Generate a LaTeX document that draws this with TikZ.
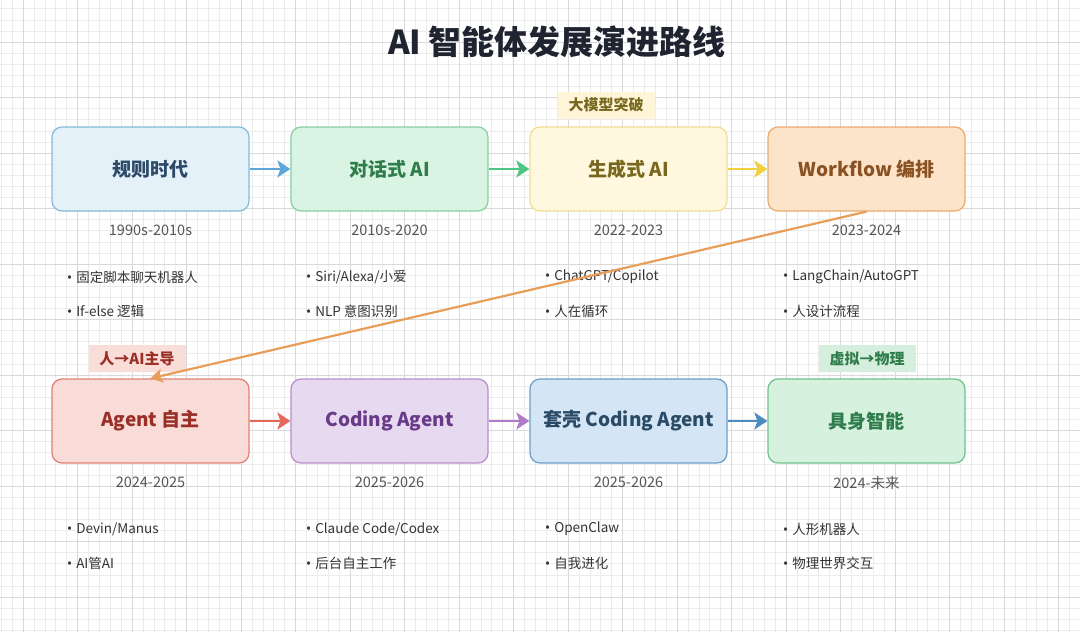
\documentclass[tikz,border=0pt]{standalone}
\usepackage{fontspec}
\setmainfont{Noto Sans CJK SC}
\newfontfamily\dotfont{Noto Sans}
\definecolor{rulefill}{HTML}{E4F1F8}
\definecolor{rulerim}{HTML}{86B9DA}
\definecolor{ruletext}{HTML}{2D4B69}
\definecolor{chatfill}{HTML}{D9F4E2}
\definecolor{chatrim}{HTML}{86CFA0}
\definecolor{chattext}{HTML}{2F7D4B}
\definecolor{genfill}{HTML}{FFF8DE}
\definecolor{genrim}{HTML}{F1DE92}
\definecolor{gentext}{HTML}{77681E}
\definecolor{wffill}{HTML}{FCE4CA}
\definecolor{wfrim}{HTML}{E9AB70}
\definecolor{wftext}{HTML}{8A5122}
\definecolor{agentfill}{HTML}{F9DBD7}
\definecolor{agentrim}{HTML}{E07F74}
\definecolor{agenttext}{HTML}{9A2F27}
\definecolor{codefill}{HTML}{E7D9EF}
\definecolor{coderim}{HTML}{B68DCA}
\definecolor{codetext}{HTML}{683A88}
\definecolor{shellfill}{HTML}{D4E6F5}
\definecolor{shellrim}{HTML}{6C9EC8}
\definecolor{shelltext}{HTML}{2A4A66}
\definecolor{bodyfill}{HTML}{D7F1DF}
\definecolor{bodyrim}{HTML}{70C18D}
\definecolor{bodytext}{HTML}{2F7D4B}
\definecolor{ruleline}{HTML}{5EA6DA}
\definecolor{chatline}{HTML}{4DC585}
\definecolor{genline}{HTML}{F1D03E}
\definecolor{jumpline}{HTML}{E89E58}
\definecolor{agentline}{HTML}{E5685B}
\definecolor{codeline}{HTML}{B07CC9}
\definecolor{shellline}{HTML}{4C8BC1}
\definecolor{gentag}{HTML}{FFF6DA}
\definecolor{agenttag}{HTML}{F9DDD9}
\definecolor{bodytag}{HTML}{D6EEDD}
\definecolor{titleink}{HTML}{1F2430}
\definecolor{dateink}{HTML}{555555}
\definecolor{pointink}{HTML}{333333}
\definecolor{gridlight}{HTML}{ECECEC}
\definecolor{griddark}{HTML}{D9D9D9}
\usetikzlibrary{arrows.meta,positioning}
\newcommand{\pointdot}{{\dotfont •}\hspace{4pt}}
\tikzset{
    stagebox/.style={
        rounded corners=10pt,
        line width=1.2pt,
        minimum width=197pt,
        minimum height=84pt,
        align=center,
        font=\fontsize{19}{22}\selectfont\bfseries
    },
    rulestage/.style={stagebox, draw=rulerim, fill=rulefill, text=ruletext},
    chatstage/.style={stagebox, draw=chatrim, fill=chatfill, text=chattext},
    genstage/.style={stagebox, draw=genrim, fill=genfill, text=gentext},
    wfstage/.style={stagebox, draw=wfrim, fill=wffill, text=wftext},
    agentstage/.style={stagebox, draw=agentrim, fill=agentfill, text=agenttext},
    codestage/.style={stagebox, draw=coderim, fill=codefill, text=codetext},
    shellstage/.style={stagebox, draw=shellrim, fill=shellfill, text=shelltext},
    bodystage/.style={stagebox, draw=bodyrim, fill=bodyfill, text=bodytext},
    stagedate/.style={
        inner sep=0pt,
        text=dateink,
        font=\fontsize{14.5}{16}\selectfont
    },
    stagepoint/.style={
        anchor=west,
        inner sep=0pt,
        text=pointink,
        font=\fontsize{13.5}{15}\selectfont
    },
    stagetag/.style={
        inner sep=0pt,
        minimum width=97pt,
        minimum height=27pt,
        font=\fontsize{15}{17}\selectfont\bfseries
    },
    flowarrow/.style={
        -{Stealth[length=13pt,width=17pt,inset=3pt]},
        line width=2.6pt
    },
    jumparrow/.style={
        -{Stealth[length=12pt,width=14pt,inset=2.5pt]},
        draw=jumpline,
        line width=2.2pt
    },
    minorgrid/.style={draw=gridlight, line width=0.6pt},
    majorgrid/.style={draw=griddark, line width=0.8pt}
}

\begin{document}
\begin{tikzpicture}[x=1pt,y=-1pt]
    \useasboundingbox[fill=white] (0,0) rectangle (1080,632);

    % background grid
    \foreach \i in {-2,...,97}
        \draw[minorgrid] ({23+\i*10.9},0) -- ({23+\i*10.9},632);
    \foreach \j in {-3,...,54}
        \draw[minorgrid] (0,{42+\j*11.1}) -- (1080,{42+\j*11.1});
    \foreach \i in {0,...,19}
        \draw[majorgrid] ({23+\i*54.5},0) -- ({23+\i*54.5},632);
    \foreach \j in {0,...,10}
        \draw[majorgrid] (0,{42+\j*55.5}) -- (1080,{42+\j*55.5});

    \node[text=titleink,font=\fontsize{33}{38}\selectfont\bfseries] (title) at (557,42)
        {AI 智能体发展演进路线};

    % first row
    \node[rulestage] (rule) at (150.5,169) {规则时代};
    \node[chatstage] (chat) at (389.5,169) {对话式 AI};
    \node[genstage] (gen) at (628.5,169) {生成式 AI};
    \node[wfstage] (wf) at (866.5,169) {Workflow 编排};

    % second row
    \node[agentstage] (agent) at (150.5,421) {Agent 自主};
    \node[codestage] (coding) at (389.5,421) {Coding Agent};
    \node[shellstage] (shell) at (628.5,421) {套壳 Coding Agent};
    \node[bodystage] (body) at (866.5,421) {具身智能};

    % milestone tags
    \node[stagetag,fill=gentag,text=gentext] (gentag) at (606,105) {大模型突破};
    \node[stagetag,fill=agenttag,text=agenttext] (agenttag) at (137,358.5) {人→AI主导};
    \node[stagetag,fill=bodytag,text=bodytext] (bodytag) at (867,358.5) {虚拟→物理};

    % periods
    \node[stagedate,below=13pt of rule] (ruledate) {1990s-2010s};
    \node[stagedate,below=13pt of chat] (chatdate) {2010s-2020};
    \node[stagedate,below=13pt of gen] (gendate) {2022-2023};
    \node[stagedate,below=13pt of wf] (wfdate) {2023-2024};
    \node[stagedate,below=13pt of agent] (agentdate) {2024-2025};
    \node[stagedate,below=13pt of coding] (codingdate) {2025-2026};
    \node[stagedate,below=13pt of shell] (shelldate) {2025-2026};
    \node[stagedate,below=13pt of body] (bodydate) {2024-未来};

    % examples
    \node[stagepoint] (rulea) at (67,277) {\pointdot 固定脚本聊天机器人};
    \node[stagepoint] (ruleb) at (67,311) {\pointdot If-else 逻辑};
    \node[stagepoint] (chata) at (306,277) {\pointdot Siri/Alexa/小爱};
    \node[stagepoint] (chatb) at (306,311) {\pointdot NLP 意图识别};
    \node[stagepoint] (gena) at (545,277) {\pointdot ChatGPT/Copilot};
    \node[stagepoint] (genb) at (545,311) {\pointdot 人在循环};
    \node[stagepoint] (wfa) at (783,277) {\pointdot LangChain/AutoGPT};
    \node[stagepoint] (wfb) at (783,311) {\pointdot 人设计流程};
    \node[stagepoint] (agenta) at (67,529) {\pointdot Devin/Manus};
    \node[stagepoint] (agentb) at (67,563) {\pointdot AI管AI};
    \node[stagepoint] (codinga) at (306,529) {\pointdot Claude Code/Codex};
    \node[stagepoint] (codingb) at (306,563) {\pointdot 后台自主工作};
    \node[stagepoint] (shella) at (545,529) {\pointdot OpenClaw};
    \node[stagepoint] (shellb) at (545,563) {\pointdot 自我进化};
    \node[stagepoint] (bodya) at (783,529) {\pointdot 人形机器人};
    \node[stagepoint] (bodyb) at (783,563) {\pointdot 物理世界交互};

    \draw[flowarrow,draw=ruleline,fill=ruleline] (rule.east) -- (chat.west);
    \draw[flowarrow,draw=chatline,fill=chatline] (chat.east) -- (gen.west);
    \draw[flowarrow,draw=genline,fill=genline] (gen.east) -- (wf.west);
    \draw[jumparrow,fill=jumpline] (wf.south) -- (agent.north);
    \draw[flowarrow,draw=agentline,fill=agentline] (agent.east) -- (coding.west);
    \draw[flowarrow,draw=codeline,fill=codeline] (coding.east) -- (shell.west);
    \draw[flowarrow,draw=shellline,fill=shellline] (shell.east) -- (body.west);
\end{tikzpicture}
\end{document}
